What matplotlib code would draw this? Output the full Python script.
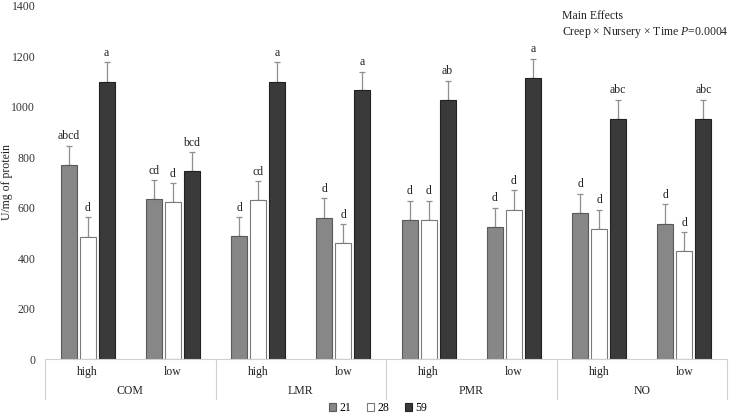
import matplotlib.pyplot as plt
import matplotlib.transforms as mtransforms
from matplotlib.patches import Patch
import numpy as np

plt.rcParams['font.family'] = ['Liberation Serif', 'DejaVu Serif']
plt.rcParams['mathtext.fontset'] = 'custom'
plt.rcParams['mathtext.rm'] = 'Liberation Serif'
plt.rcParams['mathtext.it'] = 'Liberation Serif:italic'
fs = 8.5

groups = ['COM', 'LMR', 'PMR', 'NO']
levels = ['high', 'low']
days = ['21', '28', '59']

# means per day, in order COM-high, COM-low, LMR-high, ... NO-low
d21 = [770, 634, 488, 560, 552, 524, 579, 536]
d28 = [485, 622, 630, 460, 552, 592, 517, 428]
d59 = [1100, 745, 1100, 1065, 1028, 1115, 952, 952]
# upper error (SEM)
e21 = [76, 76, 75, 78, 75, 76, 76, 77]
e28 = [78, 76, 75, 75, 76, 78, 75, 75]
e59 = [78, 75, 78, 75, 75, 75, 76, 76]
# letters
l21 = ['abcd', 'cd', 'd', 'd', 'd', 'd', 'd', 'd']
l28 = ['d', 'd', 'cd', 'd', 'd', 'd', 'd', 'd']
l59 = ['a', 'bcd', 'a', 'a', 'ab', 'a', 'abc', 'abc']

fig = plt.figure(figsize=(7.3, 4.17), dpi=100)
ax = fig.add_axes([45/730, 58/417, 682/730, 353/417])

x = np.arange(8) + 0.5
off = 0.223
w = 0.19
styles = [('#878787', '#5a5a5a'), ('white', '#7a7a7a'), ('#3a3a3a', '#222222')]
series = [(d21, e21, l21), (d28, e28, l28), (d59, e59, l59)]

for k, (vals, errs, lets) in enumerate(series):
    xs = x + (k - 1) * off
    fc, ec = styles[k]
    ax.bar(xs, vals, w, color=fc, edgecolor=ec, linewidth=0.8, zorder=2)
    ax.errorbar(xs, vals, yerr=[np.zeros(8), errs], fmt='none',
                ecolor='#8f8f8f', elinewidth=0.9, capsize=2, capthick=0.9, zorder=1)
    for xi, v, e, t in zip(xs, vals, errs, lets):
        ax.annotate(t, (xi, v + e), xytext=(0, 2.5), textcoords='offset points',
                    ha='center', va='bottom', fontsize=fs, color='#222222')

ax.set_xlim(0, 8)
ax.set_ylim(0, 1400)
ax.set_yticks(range(0, 1401, 200))
ax.tick_params(axis='y', length=0, labelsize=fs, pad=7, colors='#333333')
ax.set_xticks([])
for s in ['top', 'right', 'left', 'bottom']:
    ax.spines[s].set_visible(False)
ax.set_ylabel('U/mg of protein', fontsize=fs, color='#222222')
ax.yaxis.set_label_coords(-0.047, 0.5)

# multi-level category axis
trans = mtransforms.blended_transform_factory(ax.transData, ax.transAxes)
lc = '#d0d0d0'
ax.plot([0, 8], [0, 0], color=lc, lw=0.8, transform=trans, clip_on=False)
for gx in [0, 2, 4, 6, 8]:
    ax.plot([gx, gx], [0, -0.113], color=lc, lw=0.8, transform=trans, clip_on=False)
for i, xi in enumerate(x):
    ax.text(xi, -0.037, levels[i % 2], transform=trans, ha='center', va='center',
            fontsize=fs, color='#222222')
for j, g in enumerate(groups):
    ax.text(2 * j + 1, -0.091, g, transform=trans, ha='center', va='center',
            fontsize=fs, color='#222222')

handles = [Patch(facecolor=fc, edgecolor=ec, linewidth=0.8) for fc, ec in styles]
fig.legend(handles, days, loc='center', bbox_to_anchor=(378/730, 9/417), ncol=3,
           frameon=False, fontsize=fs, handlelength=0.6, handleheight=0.6,
           handletextpad=0.3, columnspacing=1.3)

fig.text(562/730, 1 - 10/417, 'Main Effects\nCreep \u00d7 Nursery \u00d7 Time $\\it{P}$=0.0004',
         ha='left', va='top', fontsize=fs, color='#222222', linespacing=1.35)

plt.savefig('out.png', dpi=100)
